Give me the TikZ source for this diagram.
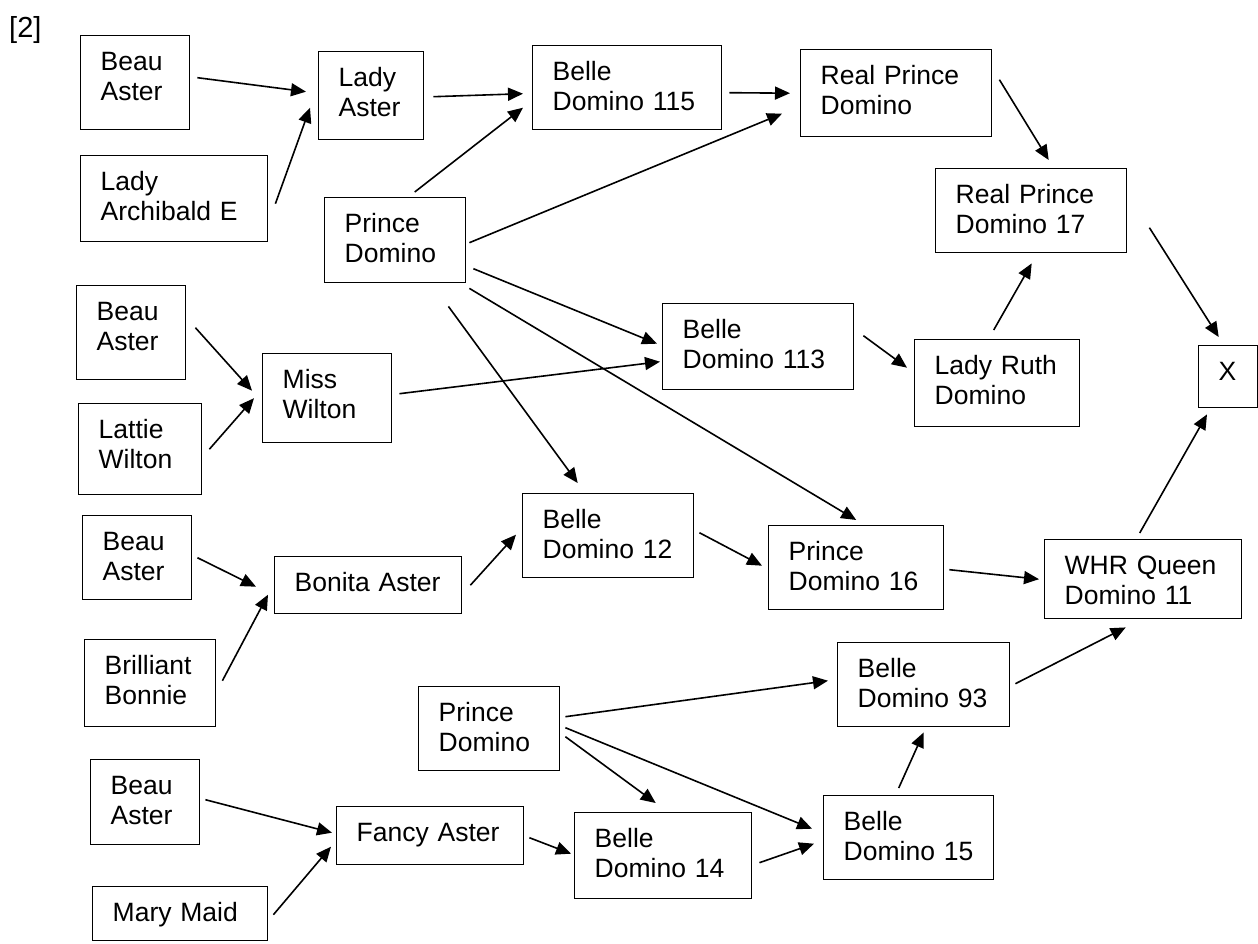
\documentclass[tikz,border=0pt]{standalone}
\usepackage{fontspec}
\setmainfont{Liberation Sans}
\usetikzlibrary{arrows.meta}

\begin{document}
\begin{tikzpicture}[
  x=1pt, y=-1pt,
  font=\fontsize{26.5pt}{30pt}\selectfont,
  box/.style={draw, line width=1.4pt, anchor=north west, align=left,
    inner xsep=20pt, inner ysep=0pt, text height=35pt},
  arrow/.style={-{Triangle[length=15pt, width=13pt]}, line width=1.6pt}
]
\useasboundingbox (0,0) rectangle (1258,944);

% Nodes
\node[anchor=base west, inner sep=0pt, font=\fontsize{29pt}{32pt}\selectfont] (tag) at (9,38) {[2]};
\node[box, text width=69pt, text depth=59pt] (ba1) at (80,35) {Beau\\Aster};
\node[box, text width=147pt, text depth=51pt] (lae) at (80,155) {Lady\\Archibald E};
\node[box, text width=65pt, text depth=53pt] (la) at (318,51) {Lady\\Aster};
\node[box, text width=101pt, text depth=50pt] (pd1) at (324,197) {Prince\\Domino};
\node[box, text width=149pt, text depth=49pt] (b115) at (532,45) {Belle\\Domino 115};
\node[box, text width=151pt, text depth=52pt] (rpd) at (800,49) {Real Prince\\Domino};
\node[box, text width=151pt, text depth=49pt] (rpd17) at (935,168) {Real Prince\\Domino 17};
\node[box, text width=19pt, text depth=27pt] (xbox) at (1198,345) {X};
\node[box, text width=69pt, text depth=59pt] (ba2) at (76,285) {Beau\\Aster};
\node[box, text width=83pt, text depth=56pt] (lw) at (78,403) {Lattie\\Wilton};
\node[box, text width=89pt, text depth=54pt] (mw) at (262,353) {Miss\\Wilton};
\node[box, text width=151pt, text depth=51pt] (b113) at (662,303) {Belle\\Domino 113};
\node[box, text width=125pt, text depth=52pt] (lrd) at (914,339) {Lady Ruth\\Domino};
\node[box, text width=69pt, text depth=49pt] (ba3) at (82,515) {Beau\\Aster};
\node[box, text width=91pt, text depth=52pt] (bb) at (84,639) {Brilliant\\Bonnie};
\node[box, text width=147pt, text depth=22pt] (bon) at (274,556) {Bonita Aster};
\node[box, text width=131pt, text depth=49pt] (b12) at (522,493) {Belle\\Domino 12};
\node[box, text width=135pt, text depth=49pt] (pd16) at (768,525) {Prince\\Domino 16};
\node[box, text width=157pt, text depth=44pt] (whr) at (1044,539) {WHR Queen\\Domino 11};
\node[box, text width=132pt, text depth=49pt] (b93) at (837,642) {Belle\\Domino 93};
\node[box, text width=130pt, text depth=49pt] (b15) at (823,795) {Belle\\Domino 15};
\node[box, text width=137pt, text depth=51pt] (b14) at (574,812) {Belle\\Domino 14};
\node[box, text width=101pt, text depth=49pt] (pd2) at (418,686) {Prince\\Domino};
\node[box, text width=147pt, text depth=23pt] (fa) at (336,806) {Fancy Aster};
\node[box, text width=69pt, text depth=50pt] (ba4) at (90,759) {Beau\\Aster};
\node[box, text width=135pt, text depth=19pt] (mm) at (92,886) {Mary Maid};

% Arrows
\draw[arrow] ([shift={(7,-5)}]ba1.east) -- ([shift={(-12,-4)}]la.west);
\draw[arrow] ([shift={(7,5)}]lae.east) -- ([shift={(-8,12)}]la.west);
\draw[arrow] ([shift={(9,1)}]la.east) -- ([shift={(-9,6)}]b115.west);
\draw[arrow] ([shift={(19.5,-5)}]pd1.north) -- ([shift={(-9,20)}]b115.west);
\draw[arrow] ([shift={(7,5)}]b115.east) -- ([shift={(-10,0)}]rpd.west);
\draw[arrow] ([shift={(3,2.5)}]pd1.east) -- ([shift={(-18,20.5)}]rpd.west);
\draw[arrow] ([shift={(7,-13.5)}]rpd.east) -- ([shift={(17.5,-8)}]rpd17.north);
\draw[arrow] ([shift={(22,17)}]rpd17.east) -- ([shift={(-9.5,-8)}]xbox.north);
\draw[arrow] ([shift={(-3.5,-9)}]lrd.north) -- ([shift={(0.5,10)}]rpd17.south);
\draw[arrow] ([shift={(9,-11)}]b113.east) -- ([shift={(-7,-15.5)}]lrd.west);
\draw[arrow] ([shift={(7,-4.5)}]mw.east) -- ([shift={(-2,15)}]b113.west);
\draw[arrow] ([shift={(7,28.5)}]pd1.east) -- ([shift={(-5,-3)}]b113.west);
\draw[arrow] ([shift={(-18,23)}]pd1.south east) -- ([shift={(-30.5,-10)}]b12.north);
\draw[arrow] ([shift={(3,5)}]pd1.south east) -- ([shift={(0,-5)}]pd16.north);
\draw[arrow] ([shift={(9,-5)}]ba2.east) -- ([shift={(-10,-7.5)}]mw.west);
\draw[arrow] ([shift={(7,0)}]lw.east) -- ([shift={(-8,0)}]mw.west);
\draw[arrow] ([shift={(5,0)}]ba3.east) -- ([shift={(-18,1.5)}]bon.west);
\draw[arrow] ([shift={(6,-2.5)}]bb.east) -- ([shift={(-6,9.5)}]bon.west);
\draw[arrow] ([shift={(8,0)}]bon.east) -- ([shift={(-6,-1)}]b12.west);
\draw[arrow] ([shift={(5,-3)}]b12.east) -- ([shift={(-6,-2)}]pd16.west);
\draw[arrow] ([shift={(5,2)}]pd16.east) -- ([shift={(-5,0)}]whr.west);
\draw[arrow] ([shift={(5,-1)}]b93.east) -- ([shift={(-17.5,8)}]whr.south);
\draw[arrow] ([shift={(-3.5,-6)}]whr.north) -- ([shift={(9,6)}]xbox.south west);
\draw[arrow] ([shift={(5,-12)}]pd2.east) -- ([shift={(-9,-4)}]b93.west);
\draw[arrow] ([shift={(5,-1)}]pd2.east) -- ([shift={(-11,-9)}]b15.west);
\draw[arrow] ([shift={(5,8)}]pd2.east) -- ([shift={(-7.5,-9)}]b14.north);
\draw[arrow] ([shift={(7,7)}]b14.east) -- ([shift={(-9,6)}]b15.west);
\draw[arrow] ([shift={(-10,-7)}]b15.north) -- ([shift={(0,5)}]b93.south);
\draw[arrow] ([shift={(5,2)}]fa.east) -- ([shift={(-3,-2)}]b14.west);
\draw[arrow] ([shift={(5,-2.5)}]ba4.east) -- ([shift={(-4,-3)}]fa.west);
\draw[arrow] ([shift={(5,1)}]mm.east) -- ([shift={(-5,11)}]fa.west);

\end{tikzpicture}
\end{document}
